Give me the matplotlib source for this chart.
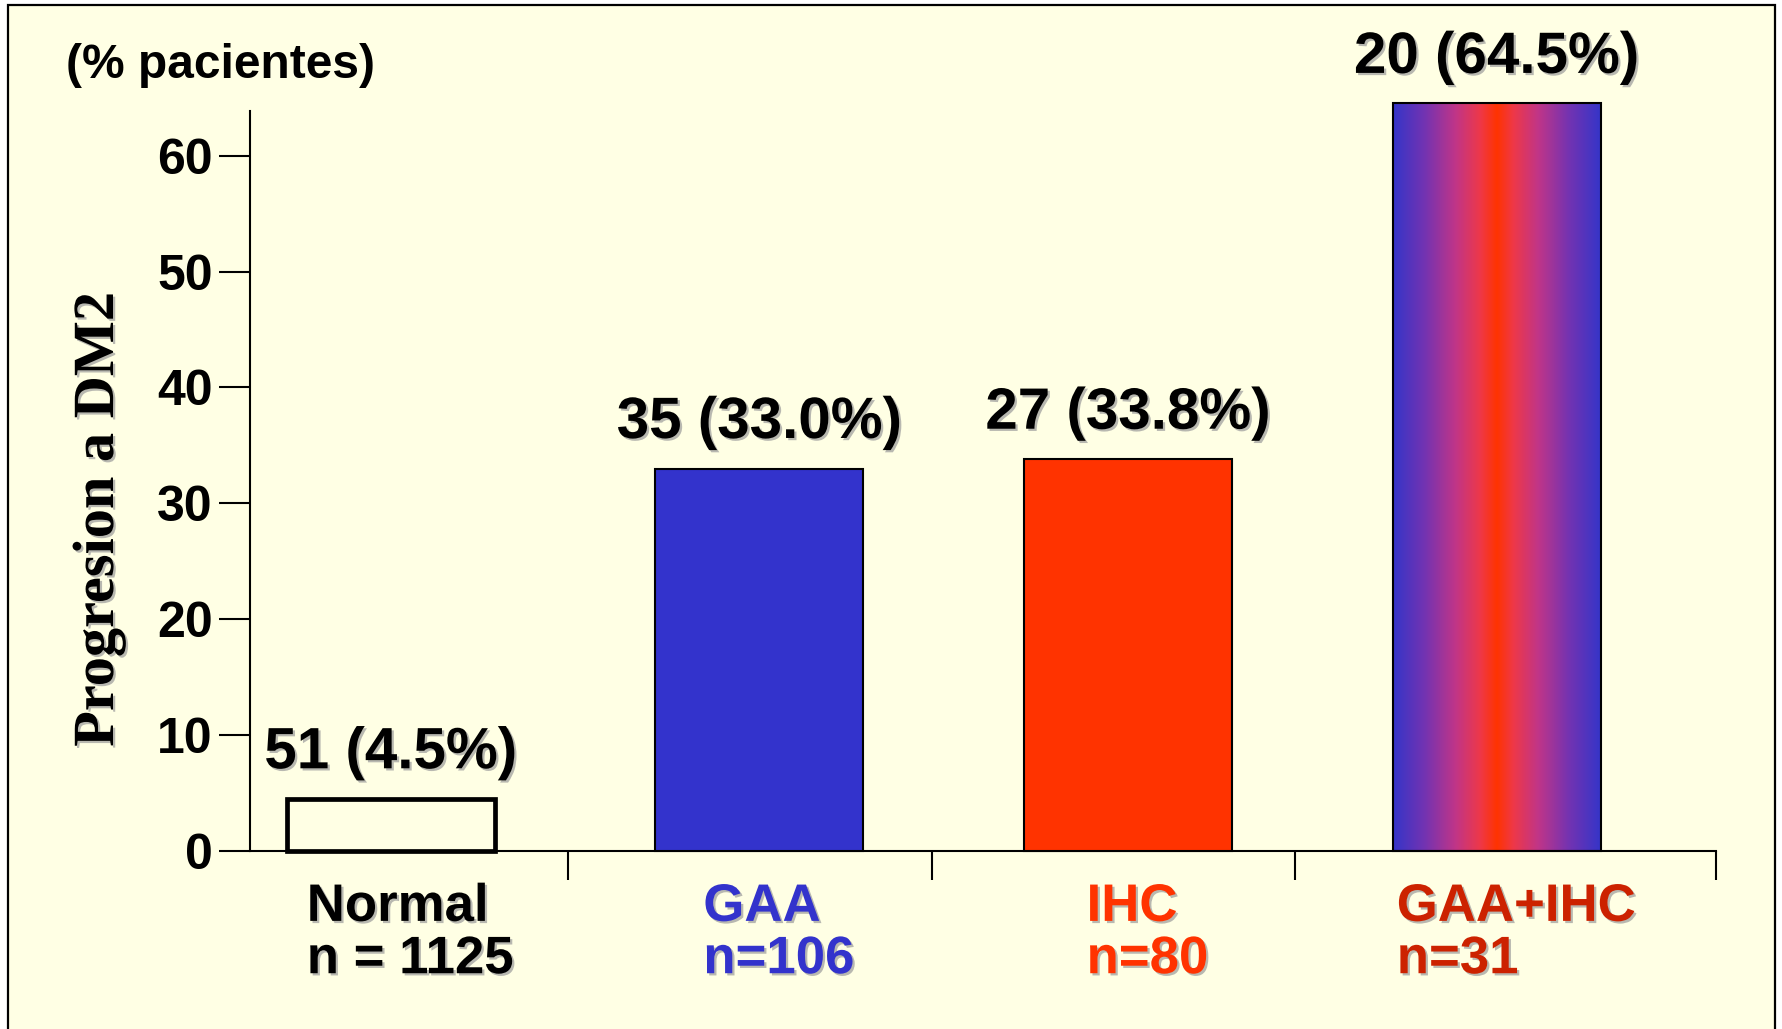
import numpy as np
import matplotlib
matplotlib.use("Agg")
import matplotlib.pyplot as plt
import matplotlib.patches as mpatches
import matplotlib.patheffects as pe
from matplotlib.colors import LinearSegmentedColormap

# Data
categories = ["Normal", "GAA", "IHC", "GAA+IHC"]
group_n = ["n = 1125", "n=106", "n=80", "n=31"]
cases = [51, 35, 27, 20]
percent = [4.5, 33.0, 33.8, 64.5]
y_ticks = [0, 10, 20, 30, 40, 50, 60]

W, H = 1782, 1029
BG = "#FFFFE4"
BLUE = "#3333CC"
RED = "#FF3300"
DARKRED = "#CC2200"
label_colors = ["black", BLUE, RED, DARKRED]

SANS = ["Liberation Sans", "DejaVu Sans"]
SERIF = ["Liberation Serif", "DejaVu Serif"]

shadow = [pe.SimplePatchShadow(offset=(1.6, -1.6), shadow_rgbFace="#B8B8B0", alpha=1.0),
          pe.Normal()]

fig = plt.figure(figsize=(W / 100, H / 100), dpi=100, facecolor="white")

# Slide panel with black frame
panel = mpatches.Rectangle((8 / W, -0.02), (1775 - 8) / W, 1 - 5 / H + 0.02,
                           transform=fig.transFigure, facecolor=BG,
                           edgecolor="black", linewidth=1.6, zorder=-10)
fig.patches.append(panel)

ax = fig.add_axes([250 / W, 178 / H, (1716 - 250) / W, (851 - 111) / H])
ax.patch.set_visible(False)

x = np.arange(len(categories))
bar_w = 0.564
xmin, xmax = -0.382, 3.595

face = ["none", BLUE, RED, "none"]
bars = ax.bar(x, percent, width=bar_w, color=face, edgecolor="black",
              linewidth=1.5, zorder=3, clip_on=False)
bars[0].set_linewidth(3.4)
bars[0].set_facecolor(BG)

# Blue-red-blue gradient fill for the combined group
grad_cmap = LinearSegmentedColormap.from_list(
    "gaa_ihc",
    [(0.0, "#3535C8"), (0.15, "#7233B2"), (0.30, "#C03588"),
     (0.42, "#EE3848"), (0.5, "#FF3300"),
     (0.58, "#EE3848"), (0.70, "#C03588"), (0.85, "#7233B2"), (1.0, "#3535C8")])
b = bars[3]
img = ax.imshow(np.linspace(0, 1, 256).reshape(1, -1), cmap=grad_cmap,
                extent=(b.get_x(), b.get_x() + b.get_width(), 0, b.get_height()),
                aspect="auto", zorder=2, interpolation="bilinear", clip_on=False)
img.set_clip_path(b)

ax.set_xlim(xmin, xmax)
ax.set_ylim(0, 63.85)

for s in ["top", "right"]:
    ax.spines[s].set_visible(False)
for s in ["left", "bottom"]:
    ax.spines[s].set_linewidth(1.5)

ax.set_yticks(y_ticks)
ax.set_yticklabels([str(t) for t in y_ticks], fontfamily=SANS,
                   fontweight="bold", fontsize=36)
ax.tick_params(axis="y", direction="out", length=22, width=1.5, pad=5)

ax.set_xticks([0.482, 1.468, 2.454, xmax])
ax.set_xticklabels([])
ax.tick_params(axis="x", direction="out", length=21, width=1.5)

# Value labels over the bars
for xi, c, p in zip(x, cases, percent):
    ax.annotate(f"{c} ({p:.1f}%)", (xi, p), xytext=(0, 22),
                textcoords="offset points", ha="center", va="baseline",
                fontsize=42, fontweight="bold", family=SANS, color="black",
                path_effects=shadow, annotation_clip=False)

# Group names with sample sizes below the axis
for xi, name, n, col in zip(x, categories, group_n, label_colors):
    ax.annotate(f"{name}\n{n}", (xi, 0), xytext=(14, -88),
                textcoords="offset points", ha="center", va="baseline",
                multialignment="left", linespacing=1.06,
                fontsize=38, fontweight="bold", family=SANS, color=col,
                path_effects=shadow, annotation_clip=False)

fig.text(220 / W, 1 - 65 / H, "(% pacientes)", ha="center", va="center",
         fontsize=34.5, fontweight="bold", family=SANS)

fig.text(99 / W, 1 - 519 / H, "Progresion a DM2", ha="center", va="center",
         rotation=90, fontsize=42, fontweight="bold", family=SERIF,
         path_effects=shadow)

fig.savefig("out.png", dpi=100, facecolor="white")
